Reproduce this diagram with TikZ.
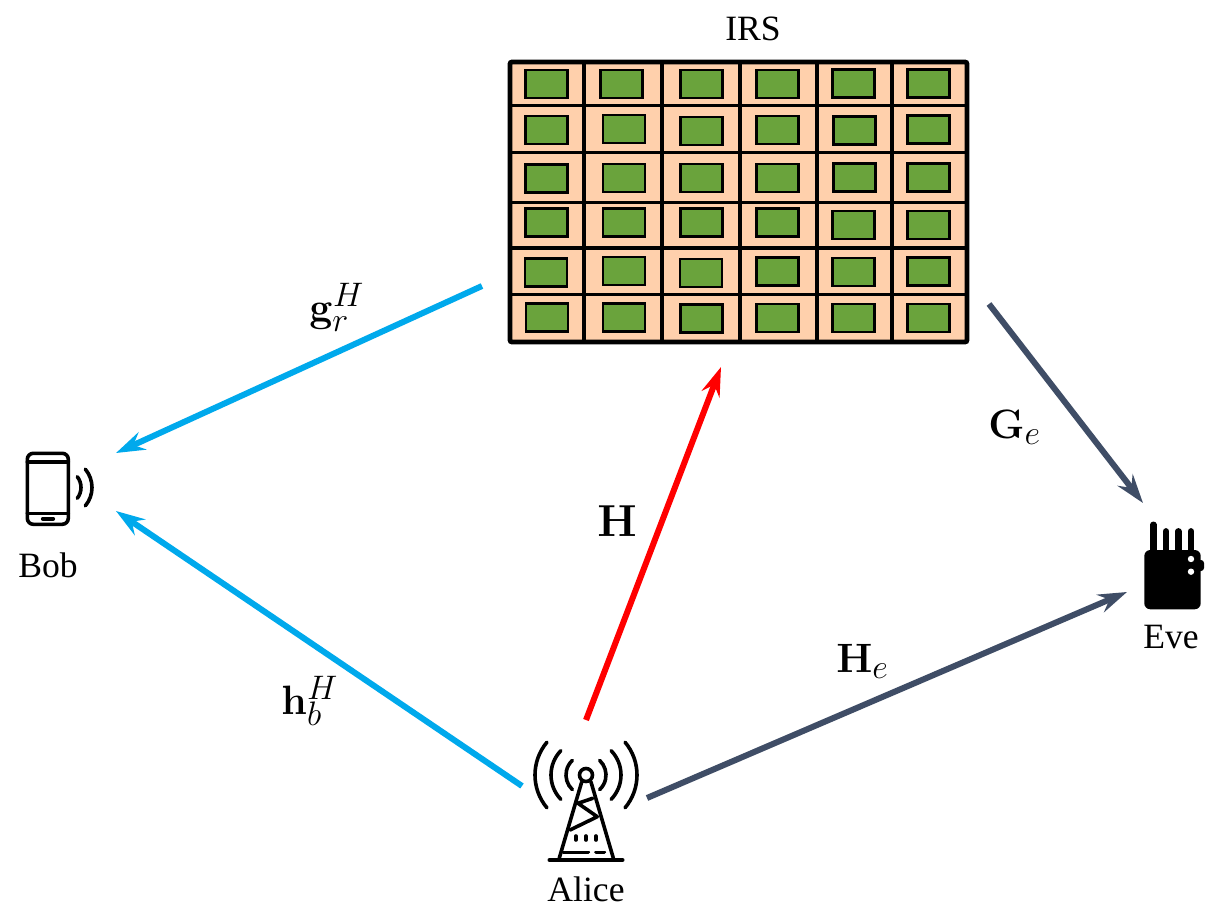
\documentclass[tikz,border=0pt]{standalone}
\usepackage{fix-cm}
\usepackage[no-math]{fontspec}
\setmainfont{Liberation Serif}
\usetikzlibrary{arrows.meta}
\DeclareMathSizes{20.5}{20.5}{17}{12}
\DeclareMathSizes{22.4}{22.4}{16}{12}
\definecolor{linkblue}{HTML}{00A9EC}
\definecolor{linkdark}{HTML}{3F4D66}
\definecolor{irspeach}{HTML}{FFD0AC}
\definecolor{irsgreen}{HTML}{6AA33C}
\tikzset{
  linkarrow/.style={line width=3pt, -{Stealth[inset=5pt,length=14.5pt,width=9.5pt]}},
  namelabel/.style={font=\fontsize{17.8}{21}\selectfont},
  chanlabel/.style={font=\fontsize{20.5}{24}\selectfont, anchor=base west, inner sep=0pt},
  iconline/.style={line width=1.8pt, line cap=round, line join=round},
}
\begin{document}
\begin{tikzpicture}[x=0.5pt, y=-0.5pt]
  \useasboundingbox (0,0) rectangle (1223,921);

  % --- 1. IRS panel ---
  \fill[irspeach] (510,62) rectangle (967,342);
  \foreach \cellx/\celly in {
    546.7/84, 621.7/84, 701.7/84, 777.7/84, 853.7/83.3, 928.7/83.3,
    546.7/130, 624/129, 701.7/131, 777.7/130, 854.7/130.7, 928.7/129.7,
    546.3/178.3, 624/178, 701.7/178, 777.3/178, 854.7/177.7, 928.7/177.7,
    546.3/222.7, 624/222.7, 701.7/222.7, 777.3/222.7, 853.7/225, 928.3/225,
    546/272.7, 624/271, 701/273, 777.3/271.3, 853.7/272, 928.3/271.7,
    547/317.3, 624/317.3, 701.7/318.3, 777.3/318, 853.7/318, 928.3/318}
    \draw[fill=irsgreen, line width=1.4pt]
      (\cellx-21,\celly-14) rectangle (\cellx+21,\celly+14);
  \foreach \gridx in {584,662,740,817,892}
    \draw[line width=1.6pt] (\gridx,62) -- (\gridx,342);
  \foreach \gridy in {105.7,152.7,202.3,248,294.7}
    \draw[line width=1.6pt] (510,\gridy) -- (967,\gridy);
  \draw[line width=2.4pt, rounded corners=1pt] (510,62) rectangle (967,342);
  \node[namelabel] (irs) at (753,29) {IRS};

  % --- 2. Alice (tower) ---
  \begin{scope}[iconline]
    \draw (586,775) circle (6.5);
    \foreach \arcr/\arca in {20/47, 35/44, 51/40} {
      \draw (586,775) ++(180-\arca:\arcr) arc[start angle=180-\arca, end angle=180+\arca, radius=\arcr];
      \draw (586,775) ++(-\arca:\arcr) arc[start angle=-\arca, end angle=\arca, radius=\arcr];
    }
    \draw (581.7,782) -- (559.3,858);
    \draw (591,782) -- (613.3,858);
    \draw (549.3,860) -- (622.7,860);
    \draw (578,803.3) -- (592.7,798.3);
    \draw (578,803.3) -- (597.3,816.7) -- (570,830);
    \foreach \dotx in {575.7,586,596} \draw (\dotx,836) -- (\dotx,840);
    \draw (563.3,852.3) -- (588.3,852.3);
    \draw (596,852.3) -- (604.3,852.3);
  \end{scope}
  \node[namelabel] (alice) at (586,889) {Alice};

  % --- 3. Bob (phone) ---
  \begin{scope}[iconline]
    \draw[rounded corners=3pt] (27.3,453.3) rectangle (68.3,524.3);
    \draw (27.3,461.7) -- (68.3,461.7);
    \draw (27.3,513.3) -- (68.3,513.3);
    \draw (42.7,518.7) -- (53.3,518.7);
    \foreach \arcr/\arca in {17.5/38, 28.5/40}
      \draw (63.5,487.5) ++(-\arca:\arcr) arc[start angle=-\arca, end angle=\arca, radius=\arcr];
  \end{scope}
  \node[namelabel] (bob) at (48,565) {Bob};

  % --- 4. Eve (jammer) ---
  \fill[rounded corners=3pt] (1144.3,550) rectangle (1200.7,609.3);
  \fill[rounded corners=1.5pt] (1196,560) rectangle (1204,571);
  \foreach \antx/\anty in {1153.3/521.7, 1166/528.3, 1178.3/528.3, 1191/528.3}
    \draw[line width=3.2pt, line cap=round] (\antx,\anty+3) -- (\antx,552);
  \fill[white] (1191,559) circle (3.2);
  \fill[white] (1191,571.7) circle (3.2);
  \node[namelabel] (eve) at (1171,637) {Eve};

  % --- 5. Links ---
  \coordinate (irsOutBob) at (482,286);
  \coordinate (bobInIrs) at (116,453);
  \coordinate (aliceOutBob) at (522,786);
  \coordinate (bobInAlice) at (116,511);
  \coordinate (aliceOutIrs) at (586,720);
  \coordinate (irsInAlice) at (721,367);
  \coordinate (aliceOutEve) at (647,798);
  \coordinate (eveInAlice) at (1127,592);
  \coordinate (irsOutEve) at (989,304);
  \coordinate (eveInIrs) at (1143,503);

  \draw[linkarrow, linkblue] (irsOutBob) -- (bobInIrs);
  \draw[linkarrow, linkblue] (aliceOutBob) -- (bobInAlice);
  \draw[linkarrow, red] (aliceOutIrs) -- (irsInAlice);
  \draw[linkarrow, linkdark] (aliceOutEve) -- (eveInAlice);
  \draw[linkarrow, linkdark] (irsOutEve) -- (eveInIrs);

  % --- 6. Channel labels ---
  \node[chanlabel] (gr) at (309,321) {$\mathbf{g}_r^H$};
  \node[chanlabel] (hb) at (281,714) {$\mathbf{h}_b^H$};
  \node[chanlabel, font=\fontsize{22.4}{26}\selectfont] (hmat) at (597,536) {$\mathbf{H}$};
  \node[chanlabel] (ge) at (988,438) {$\mathbf{G}_e$};
  \node[chanlabel] (he) at (836,672) {$\mathbf{H}_e$};
\end{tikzpicture}
\end{document}
